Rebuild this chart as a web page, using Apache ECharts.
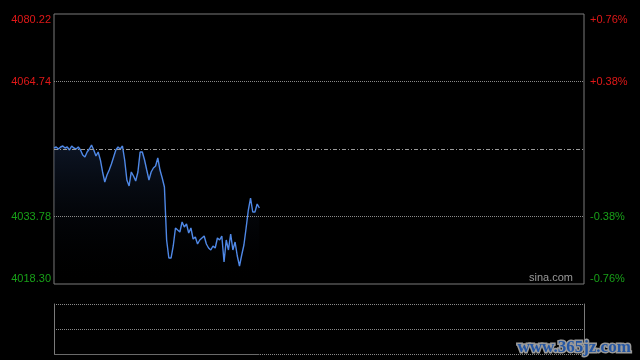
<!DOCTYPE html>
<html><head><meta charset="utf-8">
<script src="https://cdn.jsdelivr.net/npm/echarts@6/dist/echarts.min.js"></script>
<style>html,body{margin:0;padding:0;background:#000;}#c{width:640px;height:360px;}</style>
</head><body><div id="c"></div>
<script>
var baseClose = 4049.26;
var yTicks = [4018.30, 4033.78, 4049.26, 4064.74, 4080.22];
var rightTickLabels = ['-0.76%', '-0.38%', '', '+0.38%', '+0.76%'];
var prices = [
4049.49,4049.72,4049.26,4049.72,4049.95,4049.49,4049.72,4049.03,4049.95,4049.49,
4049.26,4049.72,4049.03,4047.88,4047.43,4048.57,4049.26,4050.18,4049.03,4047.66,
4048.57,4046.74,4043.99,4041.69,4043.30,4044.44,4045.82,4047.43,4049.03,4049.72,
4049.26,4049.95,4046.74,4042.15,4040.78,4043.99,4043.07,4041.92,4043.99,4048.57,
4048.57,4046.74,4044.44,4042.15,4043.99,4044.90,4045.36,4047.20,4044.44,4042.61,
4040.55,4028.39,4024.26,4024.26,4027.02,4031.14,4030.68,4030.23,4032.52,4031.37,
4032.06,4030.00,4031.14,4028.62,4029.08,4027.47,4028.39,4028.85,4029.31,4027.47,
4026.56,4026.10,4027.02,4026.56,4028.85,4028.39,4029.31,4023.35,4028.39,4026.10,
4029.77,4026.10,4027.93,4024.72,4022.43,4024.95,4027.24,4031.14,4035.27,4038.02,
4034.81,4034.81,4036.65,4035.73
];
// trading minutes 9:30-11:30, 13:01-15:00
var times = [];
(function(){
  function p(n){return (n<10?'0':'')+n;}
  for (var m = 9*60+30; m <= 11*60+30; m++) times.push(p(Math.floor(m/60))+':'+p(m%60));
  for (var m2 = 13*60+1; m2 <= 15*60; m2++) times.push(p(Math.floor(m2/60))+':'+p(m2%60));
})();

var SC = 100; // work in hundredths relative to base close
var yMin = Math.round((yTicks[0]-baseClose)*SC);
var yMax = Math.round((yTicks[4]-baseClose)*SC);
var yInt = Math.round((yTicks[1]-yTicks[0])*SC);
var seriesData = prices.map(function(v){ return +((v-baseClose)*SC).toFixed(2); });
function tickIndex(v){ return Math.round((v - yMin)/yInt); }
function colorFor(v){ return v > 0 ? '#e01818' : (v < 0 ? '#18a018' : '#888'); }

var gridLine = '#7a7a7a';
var chart = echarts.init(document.getElementById('c'), null, {renderer:'canvas'});
chart.setOption({
  backgroundColor: '#000',
  animation: false,
  grid: [
    {left: 54, top: 14, right: 56, height: 270, show: true, borderColor: gridLine, borderWidth: 1, backgroundColor: 'transparent'},
    {left: 54, top: 304, right: 56, height: 50}
  ],
  xAxis: [
    {type:'category', gridIndex:0, data: times, boundaryGap:false, show:false},
    {type:'category', gridIndex:1, data: times, boundaryGap:false, show:false}
  ],
  yAxis: [
    {type:'value', gridIndex:0, position:'left', min:yMin, max:yMax, interval:yInt,
     axisLine:{show:false}, axisTick:{show:false}, splitLine:{show:false},
     axisLabel:{margin:3, fontSize:11, fontFamily:'Liberation Sans, Arial, sans-serif',
       verticalAlignMinLabel:'bottom', verticalAlignMaxLabel:'top',
       color: function(v){ return colorFor(+v); },
       formatter: function(v){ var i = tickIndex(v); return i===2 ? '' : yTicks[i].toFixed(2); }}},
    {type:'value', gridIndex:0, position:'right', min:yMin, max:yMax, interval:yInt,
     axisLine:{show:false}, axisTick:{show:false}, splitLine:{show:false},
     axisLabel:{margin:6, fontSize:11, fontFamily:'Liberation Sans, Arial, sans-serif',
       verticalAlignMinLabel:'bottom', verticalAlignMaxLabel:'top',
       color: function(v){ return colorFor(+v); },
       formatter: function(v){ return rightTickLabels[tickIndex(v)]; }}},
    {type:'value', gridIndex:1, position:'left', min:0, max:2, interval:1,
     axisLine:{show:true, lineStyle:{color:gridLine, width:1}}, axisTick:{show:false}, axisLabel:{show:false},
     splitLine:{show:true, lineStyle:{color:'#8a8a8a', width:1, type:[1,1]}}},
    {type:'value', gridIndex:1, position:'right', min:0, max:2, interval:1,
     axisLine:{show:true, lineStyle:{color:gridLine, width:1}}, axisTick:{show:false}, axisLabel:{show:false},
     splitLine:{show:false}}
  ],
  series: [
    {type:'line', xAxisIndex:0, yAxisIndex:0, data: seriesData, showSymbol:false, symbol:'none',
     lineStyle:{color:'#4f88e6', width:1.4},
     areaStyle:{origin:'start', color: new echarts.graphic.LinearGradient(0,0,0,1,[
       {offset:0, color:'rgba(28,46,80,0.65)'},{offset:1, color:'rgba(0,0,0,0)'}])},
     markLine:{silent:true, symbol:'none', label:{show:false}, animation:false,
       data:[
         {yAxis: Math.round((yTicks[1]-baseClose)*SC), lineStyle:{color:'#8a8a8a', width:1, type:[1,1]}},
         {yAxis: Math.round((yTicks[3]-baseClose)*SC), lineStyle:{color:'#8a8a8a', width:1, type:[1,1]}},
         {yAxis: 0, lineStyle:{color:'#9a9a9a', width:1, type:[4,2,1,2]}}
       ]}},
    {type:'line', xAxisIndex:1, yAxisIndex:2, data: [], symbol:'none',
     markLine:{silent:true, symbol:'none', label:{show:false}, animation:false,
       data:[[{coord:[0,0]},{coord:[prices.length-1,0]}]], lineStyle:{color:'#6a6a6a', width:1, type:'solid'}}}
  ],
  graphic: [
    {type:'text', right: 67, top: 272, style:{text:'sina.com', fill:'#9a9a9a', font:'11px "Liberation Sans", Arial, sans-serif'}},
    {type:'text', left: 516, top: 338, z:100, style:{text:'www.365jz.com', fill:'#2456a4', stroke:'#9a9a9a', lineWidth:3, font:'bold 17px "Liberation Serif", serif'}}
  ]
});
</script>
</body></html>
